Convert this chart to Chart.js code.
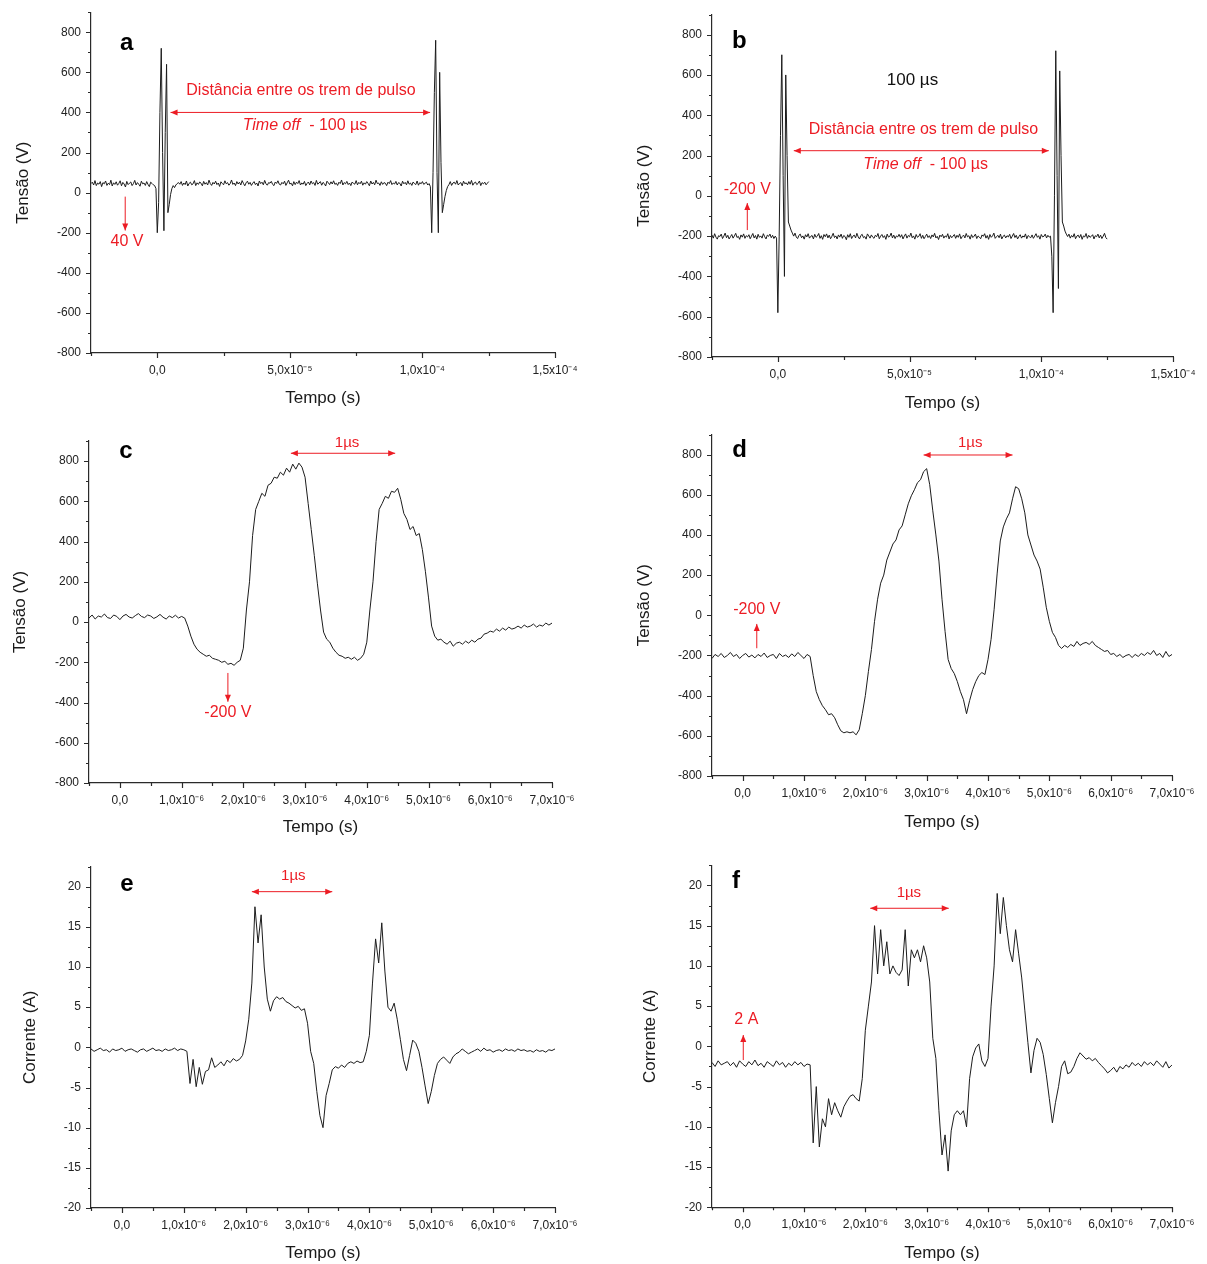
<!DOCTYPE html>
<html><head><meta charset="utf-8">
<script src="https://cdn.jsdelivr.net/npm/chart.js@4.4.0/dist/chart.umd.min.js"></script>
<style>
html,body{margin:0;padding:0;background:#fff;}
body{width:1207px;height:1264px;position:relative;overflow:hidden;}
canvas{position:absolute;}
</style></head><body>
<canvas id="ca"></canvas><canvas id="cb"></canvas><canvas id="cc"></canvas>
<canvas id="cd"></canvas><canvas id="ce"></canvas><canvas id="cf"></canvas>
<script>
// ---------- DATA ----------
// panels a, b: time axis in microseconds, sampled every 0.5 us from -25 us
const timeStartAB = -25, timeStepAB = 0.5;
// panels c-f: time axis in microseconds, sampled every 0.05 us from -0.5 us
const timeStartCF = -0.5, timeStepCF = 0.05;

const tensaoA = [
45,52,38,60,35,48,42,55,30,50,44,58,36,47,40,62,33,49,41,54,
37,46,59,34,51,43,28,56,40,47,53,35,45,61,38,50,42,32,57,44,
48,36,55,41,30,52,46,39,
35,20,-200,-50,400,720,200,-190,300,640,-100,-60,-10,20,35,
25,38,45,50,42,55,36,48,40,58,33,46,52,39,44,60,35,49,41,53,
47,34,56,42,50,38,62,45,36,51,43,57,40,48,31,54,46,39,59,44,
50,37,45,63,41,48,35,55,43,52,38,60,46,34,49,57,42,51,36,47,
55,40,48,33,58,45,52,39,61,44,37,50,47,56,41,35,53,46,59,42,
38,51,44,57,36,49,62,43,47,34,55,40,52,45,60,38,48,42,56,35,
46,53,39,58,44,50,36,61,42,48,55,37,51,45,33,57,49,40,54,43,
59,41,47,36,52,45,63,38,50,44,56,40,48,35,53,46,42,60,39,51,
44,57,37,49,42,55,46,34,58,43,51,39,62,45,48,36,54,41,50,47,
35,52,45,60,40,48,43,56,38,50,46,33,57,44,51,39,59,42,48,36,
53,45,40,58,37,50,44,55,41,47,52,38,45,
30,-200,100,500,760,100,-200,600,150,-100,-60,-20,10,30,
40,55,36,48,52,42,60,38,46,50,34,57,44,49,39,55,42,61,37,48,
53,40,46,58,35,50,44,52,39,47,55
];
const tensaoB = [
-195,-210,-188,-205,-215,-198,-202,-190,-212,-200,-185,-208,-196,-214,-203,-192,-210,-199,-186,-207,
-201,-216,-194,-205,-189,-211,-198,-204,-193,-213,-200,-187,-209,-197,-215,-191,-206,-199,-210,-188,
-203,-214,-195,-201,-190,-208,-196,-212,-200,
-210,-580,-200,300,700,100,-400,600,200,-130,-150,-170,-185,-200,
-185,-205,-212,-196,-190,-208,-199,-215,-193,-204,-188,-210,-201,-197,-214,-191,-206,-200,-187,-211,
-198,-216,-192,-203,-189,-209,-195,-213,-201,-186,-207,-199,-214,-194,-205,-190,-211,-197,-202,-218,
-193,-206,-188,-212,-200,-195,-209,-186,-204,-214,-197,-191,-208,-202,-215,-189,-199,-210,-194,-205,
-211,-196,-203,-187,-213,-200,-192,-207,-198,-216,-190,-205,-201,-185,-209,-195,-212,-199,-204,-191,
-206,-193,-214,-200,-189,-210,-197,-203,-185,-208,-199,-215,-192,-206,-201,-188,-211,-196,-213,-202,
-190,-207,-198,-212,-194,-204,-186,-209,-201,-217,-195,-203,-191,-210,-199,-205,-188,-214,-197,-208,
-200,-192,-211,-196,-206,-189,-213,-202,-195,-209,-187,-204,-198,-215,-193,-207,-200,-190,-212,-199,
-205,-213,-194,-201,-188,-210,-197,-216,-192,-206,-199,-185,-211,-203,-196,-208,-190,-214,-201,-195,
-209,-198,-204,-191,-212,-200,-187,-207,-196,-214,-202,-193,-210,-199,-205,-189,-213,-197,-203,-208,
-194,-211,-200,-188,-206,-198,-215,-192,-204,-201,-190,-209,-196,-205,
-200,-300,-580,0,720,100,-460,620,200,-130,-150,-175,-190,
-202,-190,-210,-197,-205,-188,-213,-200,-195,-208,-192,-216,-199,-204,-187,-211,-196,-206,-201,-193,
-214,-198,-203,-190,-209,-195,-212,-200,-186,-207,-215
];
const tensaoC = [
20,35,15,30,25,40,22,18,35,28,12,30,38,25,20,32,42,28,22,35,30,18,26,38,24,15,30,22,34,20,28,
20,-20,-70,-110,-135,-150,-160,-170,-165,-180,
-185,-190,-200,-195,-210,-205,-215,-200,-190,-130,
60,200,430,560,600,640,625,680,690,720,
715,745,730,765,745,785,760,790,770,720,
590,460,330,190,60,-50,-85,-100,-130,-150,
-165,-170,-180,-175,-185,-175,-190,-180,-160,-100,
60,200,400,560,590,625,615,650,645,665,
610,540,510,460,475,430,440,360,250,120,
-20,-70,-90,-85,-100,-110,-95,-120,-105,-100,
-110,-95,-105,-90,-100,-85,-80,-60,-55,-45,
-50,-35,-45,-30,-40,-25,-35,-30,-20,-30,
-15,-25,-20,-10,-25,-15,-20,-5,-15,-5
];
const tensaoD = [
-215,-195,-205,-190,-210,-200,-185,-205,-195,-215,-200,-190,-208,-198,-212,-195,-205,-188,-210,-200,
-195,-215,-190,-205,-198,-210,-192,-205,-185,-200,-215,-195,-205,
-300,-380,-420,-450,-470,-495,-490,-510,-545,-575,
-585,-580,-585,-580,-595,-570,-490,-400,-280,-170,
-30,80,160,200,275,315,355,375,425,445,
500,555,595,625,660,675,715,730,650,520,
400,270,80,-80,-220,-265,-290,-330,-380,-420,
-490,-425,-370,-330,-300,-285,-295,-220,-120,30,
210,370,440,480,510,580,640,630,580,510,
400,350,300,270,230,140,40,-30,-85,-110,
-150,-165,-150,-160,-145,-155,-130,-150,-140,-135,
-145,-130,-150,-160,-170,-180,-175,-195,-190,-205,
-195,-210,-200,-195,-210,-195,-205,-190,-200,-185,
-195,-175,-200,-190,-210,-180,-205,-195
];
const correnteE = [
-0.2,-0.5,-0.3,-0.1,-0.4,-0.3,-0.6,-0.2,-0.4,-0.3,-0.1,-0.5,-0.3,-0.2,-0.4,-0.6,-0.3,-0.2,-0.5,-0.3,
-0.1,-0.4,-0.3,-0.5,-0.2,-0.4,-0.3,-0.1,-0.4,-0.2,-0.3,
-0.5,-4.5,-1.5,-4.9,-2.5,-4.6,-3.0,-2.8,-1.3,-2.5,
-2.2,-1.8,-2.3,-1.6,-1.9,-1.4,-1.7,-1.5,-1.0,0.8,
3.5,8.0,17.5,13.0,16.5,10.0,6.0,4.5,5.8,6.3,
6.0,6.2,5.7,5.5,5.2,4.9,5.1,4.6,4.8,3.0,
-0.5,-2.0,-5.5,-8.5,-10.0,-6.0,-4.5,-2.8,-2.4,-2.6,
-2.2,-2.5,-2.0,-1.8,-2.0,-1.7,-1.9,-1.8,-0.5,1.5,
8.0,13.5,10.5,15.5,9.5,5.0,4.5,5.5,3.5,1.0,
-1.5,-2.9,-1.0,0.9,0.5,-0.5,-2.5,-4.8,-7.0,-5.5,
-3.5,-2.0,-1.5,-1.2,-1.6,-2.0,-1.2,-0.8,-0.6,-0.2,
-0.5,-0.8,-0.6,-0.4,-0.2,-0.5,-0.1,-0.4,-0.3,-0.6,
-0.4,-0.3,-0.5,-0.2,-0.4,-0.3,-0.5,-0.2,-0.4,-0.3,
-0.5,-0.4,-0.6,-0.3,-0.5,-0.4,-0.6,-0.3,-0.4,-0.2
];
const correnteF = [
-2.0,-2.5,-1.8,-2.3,-2.1,-1.9,-2.4,-2.0,-2.6,-1.8,-2.2,-2.5,-1.9,-2.3,-1.7,-2.4,-2.1,-2.6,-1.9,-2.2,
-2.5,-1.8,-2.3,-2.0,-2.6,-2.1,-2.4,-1.9,-2.3,-2.0,-2.5,-2.2,-2.3,
-12.0,-5.0,-12.5,-9.0,-10.0,-6.5,-8.5,-7.0,-8.0,-8.8,
-7.5,-6.8,-6.2,-6.0,-6.5,-6.8,-4.0,2.0,5.0,8.0,
15.0,9.0,14.5,10.0,13.0,9.0,10.0,9.2,8.8,9.5,
14.5,7.5,12.0,11.0,12.0,10.5,12.5,11.0,8.0,1.0,
-1.5,-8.0,-13.5,-11.0,-15.5,-10.5,-8.5,-8.0,-8.5,-8.0,
-10.0,-4.0,-1.3,-0.2,0.3,-1.8,-2.5,-1.5,5.0,10.0,
19.0,14.0,18.5,15.0,12.0,10.5,14.5,11.5,8.5,4.5,
0.5,-3.3,-0.5,1.0,0.5,-1.0,-3.5,-6.5,-9.5,-7.0,
-5.0,-2.5,-1.8,-3.4,-3.2,-2.5,-1.5,-0.8,-1.2,-1.6,
-1.4,-1.8,-1.5,-2.0,-2.4,-2.8,-3.3,-3.0,-2.6,-3.2,
-2.5,-2.8,-2.3,-2.6,-2.0,-2.4,-2.1,-2.5,-1.9,-2.3,
-2.0,-2.4,-1.8,-2.2,-2.6,-1.9,-2.7,-2.3
];

// ---------- TICKS ----------
const xMajorAB = [0, 50, 100, 150];
const xLabelsAB = ['0,0', '5,0x10⁻⁵', '1,0x10⁻⁴', '1,5x10⁻⁴'];
const xMinorAB = [-25, 25, 75, 125];
const xMajorCF = [0, 1, 2, 3, 4, 5, 6, 7];
const xLabelsCF = ['0,0', '1,0x10⁻⁶', '2,0x10⁻⁶', '3,0x10⁻⁶', '4,0x10⁻⁶', '5,0x10⁻⁶', '6,0x10⁻⁶', '7,0x10⁻⁶'];
const xMinorCF = [-0.5, 0.5, 1.5, 2.5, 3.5, 4.5, 5.5, 6.5];
const yMajorV = [-800, -600, -400, -200, 0, 200, 400, 600, 800];
const yLabelsV = ['-800', '-600', '-400', '-200', '0', '200', '400', '600', '800'];
const yMinorV = [-700, -500, -300, -100, 100, 300, 500, 700, 900];
const yMajorI = [-20, -15, -10, -5, 0, 5, 10, 15, 20];
const yLabelsI = ['-20', '-15', '-10', '-5', '0', '5', '10', '15', '20'];
const yMinorI = [-17.5, -12.5, -7.5, -2.5, 2.5, 7.5, 12.5, 17.5, 22.5];

// ---------- STYLE ----------
const FONT = "'Liberation Sans', Arial, sans-serif";
const AXIS = '#2a2a2a';
const TRACE = '#1c1c1c';
const RED = '#ec1c24';
const TITLE_SIZE = 17;

function series(start, step, values) {
  return values.map((v, i) => ({ x: Math.round((start + i * step) * 1000) / 1000, y: v }));
}

const TIMEOFF = [{ text: 'Time off', italic: true }, { text: '  - 100 µs', italic: false }];
const DIST = 'Distância entre os trem de pulso';

const panels = [
  { id: 'ca', left: 0, top: 0, w: 600, h: 420, padTop: 11, padRight: 45, yW: 91, xH: 67, yTitleOff: 12.8, xTitleOff: 11.8,
    start: timeStartAB, step: timeStepAB, values: tensaoA, xMin: -25, xMax: 150,
    xMajor: xMajorAB, xMinor: xMinorAB, xLabels: xLabelsAB, yMin: -800, yMax: 900,
    yMajor: yMajorV, yMinor: yMinorV, yLabels: yLabelsV, yTitle: 'Tensão (V)',
    annots: [
      { type: 'letter', x: -11.5, y: 742, text: 'a' },
      { type: 'text', x: 54.2, y: 507, text: DIST, color: RED, size: 16 },
      { type: 'arrow', x1: 5.0, y1: 400, x2: 102.9, y2: 400, both: true },
      { type: 'rich', x: 55.7, y: 333, parts: TIMEOFF, color: RED, size: 16 },
      { type: 'arrow', x1: -12.1, y1: -20, x2: -12.1, y2: -189, both: false },
      { type: 'text', x: -11.4, y: -243, text: '40 V', color: RED, size: 16 }
    ] },
  { id: 'cb', left: 600, top: 0, w: 607, h: 420, padTop: 14.5, padRight: 34, yW: 112, xH: 63, yTitleOff: 34.4, xTitleOff: 6.8,
    start: timeStartAB, step: timeStepAB, values: tensaoB, xMin: -25, xMax: 150,
    xMajor: xMajorAB, xMinor: xMinorAB, xLabels: xLabelsAB, yMin: -800, yMax: 900,
    yMajor: yMajorV, yMinor: yMinorV, yLabels: yLabelsV, yTitle: 'Tensão (V)',
    annots: [
      { type: 'letter', x: -14.6, y: 765, text: 'b' },
      { type: 'text', x: 51.1, y: 575, text: '100 µs', color: '#111', size: 17 },
      { type: 'text', x: 55.3, y: 330, text: DIST, color: RED, size: 16 },
      { type: 'arrow', x1: 6.05, y1: 224, x2: 102.85, y2: 224, both: true },
      { type: 'rich', x: 56.1, y: 153, parts: TIMEOFF, color: RED, size: 16 },
      { type: 'text', x: -11.6, y: 29, text: '-200 V', color: RED, size: 16 },
      { type: 'arrow', x1: -11.6, y1: -170, x2: -11.6, y2: -36, both: false }
    ] },
  { id: 'cc', left: 0, top: 420, w: 600, h: 430, padTop: 21, padRight: 48, yW: 89, xH: 67, yTitleOff: 10.0, xTitleOff: 12.8,
    start: timeStartCF, step: timeStepCF, values: tensaoC, xMin: -0.5, xMax: 7,
    xMajor: xMajorCF, xMinor: xMinorCF, xLabels: xLabelsCF, yMin: -800, yMax: 900,
    yMajor: yMajorV, yMinor: yMinorV, yLabels: yLabelsV, yTitle: 'Tensão (V)',
    annots: [
      { type: 'letter', x: 0.10, y: 847, text: 'c' },
      { type: 'text', x: 3.68, y: 891, text: '1µs', color: RED, size: 15 },
      { type: 'arrow', x1: 2.77, y1: 839, x2: 4.46, y2: 839, both: true },
      { type: 'text', x: 1.75, y: -452, text: '-200 V', color: RED, size: 16 },
      { type: 'arrow', x1: 1.75, y1: -253, x2: 1.75, y2: -396, both: false }
    ] },
  { id: 'cd', left: 600, top: 420, w: 607, h: 430, padTop: 14.5, padRight: 35, yW: 112, xH: 74, yTitleOff: 33.8, xTitleOff: 17.8,
    start: timeStartCF, step: timeStepCF, values: tensaoD, xMin: -0.5, xMax: 7,
    xMajor: xMajorCF, xMinor: xMinorCF, xLabels: xLabelsCF, yMin: -800, yMax: 900,
    yMajor: yMajorV, yMinor: yMinorV, yLabels: yLabelsV, yTitle: 'Tensão (V)',
    annots: [
      { type: 'letter', x: -0.05, y: 823, text: 'd' },
      { type: 'text', x: 3.71, y: 859, text: '1µs', color: RED, size: 15 },
      { type: 'arrow', x1: 2.95, y1: 798, x2: 4.40, y2: 798, both: true },
      { type: 'text', x: 0.23, y: 26, text: '-200 V', color: RED, size: 16 },
      { type: 'arrow', x1: 0.23, y1: -164, x2: 0.23, y2: -43, both: false }
    ] },
  { id: 'ce', left: 0, top: 850, w: 600, h: 414, padTop: 16.6, padRight: 45, yW: 91, xH: 56, yTitleOff: 19.8, xTitleOff: 0.8,
    start: timeStartCF, step: timeStepCF, values: correnteE, xMin: -0.5, xMax: 7,
    xMajor: xMajorCF, xMinor: xMinorCF, xLabels: xLabelsCF, yMin: -20, yMax: 22.5,
    yMajor: yMajorI, yMinor: yMinorI, yLabels: yLabelsI, yTitle: 'Corrente (A)',
    annots: [
      { type: 'letter', x: 0.08, y: 20.33, text: 'e' },
      { type: 'text', x: 2.77, y: 21.33, text: '1µs', color: RED, size: 15 },
      { type: 'arrow', x1: 2.10, y1: 19.38, x2: 3.40, y2: 19.38, both: true }
    ] },
  { id: 'cf', left: 600, top: 850, w: 607, h: 414, padTop: 15.3, padRight: 35, yW: 112, xH: 56.7, yTitleOff: 39.8, xTitleOff: 0.8,
    start: timeStartCF, step: timeStepCF, values: correnteF, xMin: -0.5, xMax: 7,
    xMajor: xMajorCF, xMinor: xMinorCF, xLabels: xLabelsCF, yMin: -20, yMax: 22.5,
    yMajor: yMajorI, yMinor: yMinorI, yLabels: yLabelsI, yTitle: 'Corrente (A)',
    annots: [
      { type: 'letter', x: -0.11, y: 20.46, text: 'f' },
      { type: 'text', x: 2.71, y: 19.02, text: '1µs', color: RED, size: 15 },
      { type: 'arrow', x1: 2.08, y1: 17.16, x2: 3.36, y2: 17.16, both: true },
      { type: 'text', x: 0.06, y: 3.28, text: '2 A', color: RED, size: 16 },
      { type: 'arrow', x1: 0.01, y1: -1.7, x2: 0.01, y2: 1.41, both: false }
    ] }
];

function arrowHead(ctx, x, y, ang) {
  const L = 7, W = 3;
  ctx.beginPath();
  ctx.moveTo(x, y);
  ctx.lineTo(x - L * Math.cos(ang) + W * Math.sin(ang), y - L * Math.sin(ang) - W * Math.cos(ang));
  ctx.lineTo(x - L * Math.cos(ang) - W * Math.sin(ang), y - L * Math.sin(ang) + W * Math.cos(ang));
  ctx.closePath();
  ctx.fill();
}

const decor = {
  id: 'decor',
  afterDraw(chart, args, o) {
    const ctx = chart.ctx, xs = chart.scales.x, ys = chart.scales.y, ca = chart.chartArea;
    ctx.save();
    ctx.strokeStyle = AXIS; ctx.lineWidth = 1.2;
    ctx.beginPath();
    o.xMajor.forEach(v => { const p = Math.round(xs.getPixelForValue(v)) + 0.5; ctx.moveTo(p, ca.bottom); ctx.lineTo(p, ca.bottom + 5); });
    o.xMinor.forEach(v => { const p = Math.round(xs.getPixelForValue(v)) + 0.5; ctx.moveTo(p, ca.bottom); ctx.lineTo(p, ca.bottom + 3); });
    o.yMajor.forEach(v => { const p = Math.round(ys.getPixelForValue(v)) + 0.5; ctx.moveTo(ca.left, p); ctx.lineTo(ca.left - 5, p); });
    o.yMinor.forEach(v => { const p = Math.round(ys.getPixelForValue(v)) + 0.5; ctx.moveTo(ca.left, p); ctx.lineTo(ca.left - 3, p); });
    ctx.stroke();
    ctx.textAlign = 'center'; ctx.textBaseline = 'middle';
    o.annots.forEach(a => {
      if (a.type === 'letter') {
        ctx.fillStyle = '#000';
        ctx.font = "bold 24px " + FONT;
        ctx.fillText(a.text, xs.getPixelForValue(a.x), ys.getPixelForValue(a.y));
      } else if (a.type === 'text') {
        ctx.fillStyle = a.color;
        ctx.font = a.size + "px " + FONT;
        ctx.fillText(a.text, xs.getPixelForValue(a.x), ys.getPixelForValue(a.y));
      } else if (a.type === 'rich') {
        ctx.fillStyle = a.color;
        const fonts = a.parts.map(p => (p.italic ? 'italic ' : '') + a.size + 'px ' + FONT);
        const widths = a.parts.map((p, i) => { ctx.font = fonts[i]; return ctx.measureText(p.text).width; });
        const total = widths.reduce((s, w) => s + w, 0);
        let x = xs.getPixelForValue(a.x) - total / 2;
        const y = ys.getPixelForValue(a.y);
        ctx.textAlign = 'left';
        a.parts.forEach((p, i) => { ctx.font = fonts[i]; ctx.fillText(p.text, x, y); x += widths[i]; });
        ctx.textAlign = 'center';
      } else if (a.type === 'arrow') {
        const x1 = xs.getPixelForValue(a.x1), y1 = ys.getPixelForValue(a.y1);
        const x2 = xs.getPixelForValue(a.x2), y2 = ys.getPixelForValue(a.y2);
        ctx.strokeStyle = RED; ctx.fillStyle = RED; ctx.lineWidth = 1;
        ctx.beginPath(); ctx.moveTo(x1, y1); ctx.lineTo(x2, y2); ctx.stroke();
        const ang = Math.atan2(y2 - y1, x2 - x1);
        arrowHead(ctx, x2, y2, ang);
        if (a.both) arrowHead(ctx, x1, y1, ang + Math.PI);
      }
    });
    ctx.restore();
  }
};

panels.forEach(p => {
  const cv = document.getElementById(p.id);
  cv.width = p.w; cv.height = p.h;
  cv.style.left = p.left + 'px'; cv.style.top = p.top + 'px';
  cv.style.width = p.w + 'px'; cv.style.height = p.h + 'px';
  new Chart(cv, {
    type: 'line',
    data: { datasets: [{ data: series(p.start, p.step, p.values), borderColor: TRACE, borderWidth: 1,
      pointRadius: 0, fill: false, tension: 0 }] },
    plugins: [decor],
    options: {
      responsive: false, animation: false, devicePixelRatio: 1, parsing: false,
      layout: { padding: { top: p.padTop, right: p.padRight, left: 0, bottom: 0 } },
      plugins: { legend: { display: false }, tooltip: { enabled: false },
        decor: { xMajor: p.xMajor, xMinor: p.xMinor, yMajor: p.yMajor, yMinor: p.yMinor, annots: p.annots } },
      scales: {
        x: {
          type: 'linear', min: p.xMin, max: p.xMax,
          afterBuildTicks: s => { s.ticks = p.xMajor.map(v => ({ value: v })); },
          afterFit: s => { s.height = p.xH; },
          ticks: { callback: (v, i) => p.xLabels[i], autoSkip: false, maxRotation: 0, minRotation: 0, padding: 5,
            font: { family: FONT, size: 12 }, color: '#222' },
          grid: { display: false, drawTicks: true, tickLength: 5 },
          border: { display: true, color: AXIS, width: 1.2 },
          title: { display: true, text: 'Tempo (s)', color: '#1a1a1a', font: { family: FONT, size: TITLE_SIZE },
            padding: { top: 0, bottom: p.xTitleOff } }
        },
        y: {
          type: 'linear', min: p.yMin, max: p.yMax,
          afterBuildTicks: s => { s.ticks = p.yMajor.map(v => ({ value: v })); },
          afterFit: s => { s.width = p.yW; },
          ticks: { callback: (v, i) => p.yLabels[i], autoSkip: false, padding: 5,
            font: { family: FONT, size: 12 }, color: '#222' },
          grid: { display: false, drawTicks: true, tickLength: 5 },
          border: { display: true, color: AXIS, width: 1.2 },
          title: { display: true, text: p.yTitle, color: '#1a1a1a', font: { family: FONT, size: TITLE_SIZE },
            padding: { top: p.yTitleOff, bottom: 0 } }
        }
      }
    }
  });
});
</script>
</body></html>
